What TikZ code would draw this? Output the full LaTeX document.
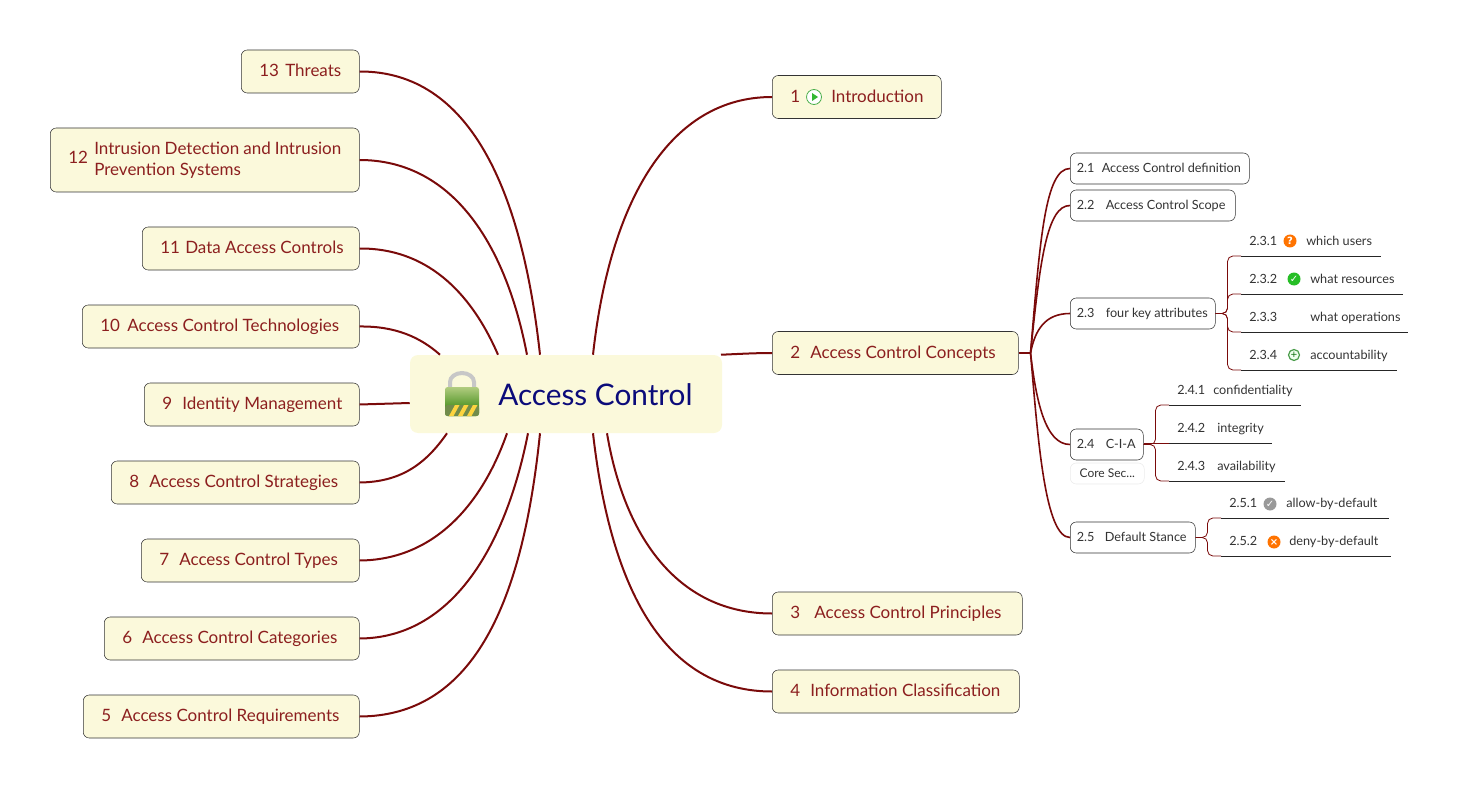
\documentclass[tikz,border=0pt]{standalone}
\usepackage{fontspec}
\usepackage{xcolor}
\usepackage{tikz}
\setmainfont{Lato}
\newfontfamily\symfont{DejaVu Sans}
\definecolor{paper}{HTML}{FBF9DB}
\definecolor{linkred}{HTML}{7A0A0A}
\definecolor{topicred}{HTML}{8C1F1F}
\definecolor{titlenavy}{HTML}{0B0B7A}
\definecolor{subgray}{HTML}{333333}
\newcommand{\px}{0.75pt}
% number column, then the label
\newcommand{\itemline}[4]{\makebox[#1\dimexpr\px\relax][l]{\makebox[#2\dimexpr\px\relax][l]{#3}#4}}
\tikzset{
	rootbox/.style={fill=paper,rounded corners=6pt,minimum width=312*\px,minimum height=78*\px},
	topic/.style={draw=black!80,fill=paper,rounded corners=4.5pt,anchor=west,inner xsep=18*\px,inner ysep=0pt,
		minimum height=43*\px,text=topicred,text height=10.25pt,text depth=2.25pt,font=\fontsize{12.75}{15.75}\selectfont},
	subtopic/.style={draw=black!80,fill=white,rounded corners=4.5pt,anchor=west,inner xsep=6.5*\px,inner ysep=0pt,
		minimum height=31*\px,text=subgray,text height=7pt,text depth=1pt,font=\fontsize{9.5}{11}\selectfont},
	leaf/.style={anchor=south west,inner xsep=8*\px,inner ysep=0pt,minimum height=32*\px,text=subgray,
		text height=9pt,text depth=0pt,font=\fontsize{9.5}{11}\selectfont},
	notebox/.style={draw=black!8,fill=white,rounded corners=4.5pt,anchor=west,inner xsep=0pt,inner ysep=0pt,
		minimum width=74*\px,minimum height=21*\px,text=subgray,font=\fontsize{9}{10}\selectfont},
	link/.style={draw=linkred,line width=1.5pt},
	sublink/.style={draw=linkred,line width=1.2pt},
	bracket/.style={draw=linkred,line width=0.6pt,rounded corners=4pt},
	iconball/.style={circle,fill=#1,inner sep=0pt,minimum size=13*\px,text=white,
		font=\symfont\fontsize{7.5}{8}\bfseries\selectfont},
}
\begin{document}
\begin{tikzpicture}[x=0.75pt,y=-0.75pt]
	\useasboundingbox (0,0) rectangle (1457,788);
	% root
	\node[rootbox] (root) at (566,394) {};
	\node[anchor=west,inner sep=0pt,text=titlenavy,font=\fontsize{22.3}{26}\selectfont] (title) at (498,394.5) {Access Control};
	% lock
	\draw[black!22,line width=3pt] (450,388) -- (450,382) arc (180:360:12 and 9) -- (474,388);
	\shade[top color=green!35!yellow!60!black!50,bottom color=green!40!black!85!yellow,rounded corners=2pt]
		(445,387) rectangle (479,416);
	\fill[yellow!40!black!70!green,rounded corners=2pt] (445,405) rectangle (479,416);
	\foreach \s in {449,458,467}
		\fill[yellow!60!orange!75] (\s,416) -- (\s+6,405) -- (\s+10.5,405) -- (\s+4.5,416) -- cycle;
	% left topics
	\node[topic] (t13) at (241,71.5) {\itemline{82}{26}{13}{Threats}};
	\node[topic,minimum height=64*\px,text height=14pt,text depth=8pt] (t12) at (50,160) {\makebox[26\dimexpr\px\relax][l]{12}\parbox[c]{247\dimexpr\px\relax}{Intrusion Detection and Intrusion\\Prevention Systems}};
	\node[topic] (t11) at (142,248.5) {\itemline{181}{25}{11}{Data Access Controls}};
	\node[topic] (t10) at (82,326.5) {\itemline{241}{27}{10}{Access Control Technologies}};
	\node[topic] (t9) at (144,404.5) {\itemline{179}{20}{9}{Identity Management}};
	\node[topic] (t8) at (111,482.5) {\itemline{212}{20}{8}{Access Control Strategies}};
	\node[topic] (t7) at (141,560.5) {\itemline{182}{20}{7}{Access Control Types}};
	\node[topic] (t6) at (104,638.5) {\itemline{219}{20}{6}{Access Control Categories}};
	\node[topic] (t5) at (83,716.5) {\itemline{240}{20}{5}{Access Control Requirements}};
	% right topics
	\node[topic] (t1) at (772,97) {\itemline{133}{41}{1}{Introduction}};
	\node[topic] (t2) at (772,353) {\itemline{210}{20}{2}{Access Control Concepts}};
	\node[topic] (t3) at (772,613.5) {\itemline{214}{24}{3}{Access Control Principles}};
	\node[topic] (t4) at (772,691.5) {\itemline{211}{20}{4}{Information Classification}};
	\node[circle,draw=green!55!black!70,fill=white,line width=0.6pt,inner sep=0pt,minimum size=15*\px] (play) at (814,97) {};
	\fill[green!65!black!80] ([xshift=-2*\px,yshift=4*\px]play.center) -- ([xshift=-2*\px,yshift=-4*\px]play.center) -- ([xshift=4*\px]play.center) -- cycle;
	% sub topics
	\node[subtopic] (n21) at (1070,168.5) {\itemline{166}{25}{2.1}{Access Control definition}};
	\node[subtopic] (n22) at (1070,205.5) {\itemline{152}{29}{2.2}{Access Control Scope}};
	\node[subtopic] (n23) at (1070,313.5) {\itemline{132}{29}{2.3}{four key attributes}};
	\node[subtopic] (n24) at (1070,444.5) {\itemline{60}{29}{2.4}{C-I-A}};
	\node[subtopic] (n25) at (1070,537.5) {\itemline{112}{28}{2.5}{Default Stance}};
	\node[notebox] (note) at (1070,473.5) {Core Sec...};
	% leaves
	\foreach \id/\xs/\ys/\w/\numw/\num/\lab in {
		n231/1241/256/139/57/2.3.1/which users,
		n232/1241/294/161/61/2.3.2/what resources,
		n233/1241/332/166/61/2.3.3/what operations,
		n234/1241/370/155/61/2.3.4/accountability,
		n241/1169/405/131/36/2.4.1/confidentiality,
		n242/1169/443/102/40/2.4.2/integrity,
		n243/1169/481/115/40/2.4.3/availability,
		n251/1221/518/167/57/2.5.1/allow-by-default,
		n252/1221/556/169/60/2.5.2/deny-by-default}
	{
		\node[leaf,minimum width=\w*\px] (\id) at (\xs,\ys) {\itemline{\numexpr\w-16\relax}{\numw}{\num}{\lab}};
		\draw[black!85,line width=0.75pt] (\id.south west) -- (\id.south east);
	}
	% icons
	\node[iconball=orange!90!red] (ico231) at (1290,241) {?};
	\node[iconball=green!70!black!85] (ico232) at (1294,279) {✓};
	\node[circle,draw=green!45!black!70,fill=green!6,line width=0.9pt,inner sep=0pt,minimum size=11*\px,font=\symfont\fontsize{6.5}{6.5}\selectfont,text=green!40!black] (ico234) at (1294,355) {+};
	\node[iconball=black!40] (ico251) at (1270,504) {✓};
	\node[iconball=orange!90!red] (ico252) at (1274,542) {×};
	% root links
	\draw[link] ([xshift=-26*\px]root.north) .. controls (522,190) and (470,71) .. (t13.east);
	\draw[link] ([xshift=-39*\px]root.north) .. controls (505,240) and (450,160) .. (t12.east);
	\draw[link] ([xshift=-68*\px]root.north) .. controls (470,290) and (425,248) .. (t11.east);
	\draw[link] ([xshift=-126*\px]root.north) .. controls (420,337) and (395,326) .. (t10.east);
	\draw[link] ([yshift=-9*\px]root.west) -- (t9.east);
	\draw[link] ([xshift=-119*\px]root.south) .. controls (425,465) and (400,482) .. (t8.east);
	\draw[link] ([xshift=-59*\px]root.south) .. controls (480,510) and (430,560) .. (t7.east);
	\draw[link] ([xshift=-38*\px]root.south) .. controls (505,550) and (450,638) .. (t6.east);
	\draw[link] ([xshift=-26*\px]root.south) .. controls (522,610) and (470,716) .. (t5.east);
	\draw[link] ([xshift=27*\px]root.north) .. controls (610,200) and (670,97) .. (t1.west);
	\draw[link] ([xshift=155*\px]root.north) .. controls (738,354) and (755,353) .. (t2.west);
	\draw[link] ([xshift=41*\px]root.south) .. controls (625,540) and (680,613.5) .. (t3.west);
	\draw[link] ([xshift=27*\px]root.south) .. controls (612,600) and (670,691.5) .. (t4.west);
	% sub links
	\coordinate (hub) at ([xshift=12*\px]t2.east);
	\draw[link] (t2.east) -- (hub);
	\draw[sublink] (hub) .. controls (1040,240) and (1045,168.5) .. (n21.west);
	\draw[sublink] (hub) .. controls (1040,260) and (1047,205.5) .. (n22.west);
	\draw[sublink] (hub) .. controls (1035,330) and (1045,313.5) .. (n23.west);
	\draw[sublink] (hub) .. controls (1036,400) and (1045,444.5) .. (n24.west);
	\draw[sublink] (hub) .. controls (1038,440) and (1045,537.5) .. (n25.west);
	% brackets
	\foreach \from/\to in {n23/n231,n23/n232,n23/n233,n23/n234,n24/n241,n24/n243,n25/n251,n25/n252}
		\draw[bracket] (\from.east) -- +(12,0) |- (\to.south west);
	\draw[bracket] (n24.east |- n242.south west) -- (n242.south west);
\end{tikzpicture}
\end{document}
